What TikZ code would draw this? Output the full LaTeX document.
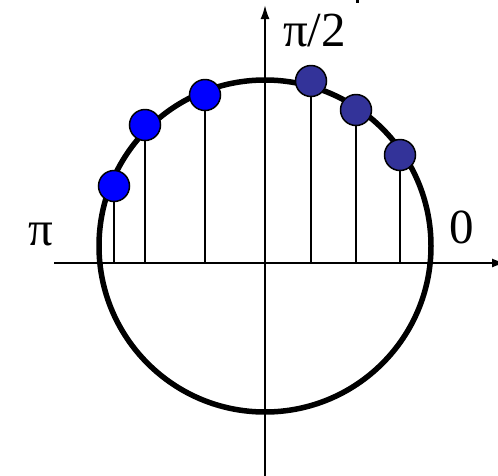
\documentclass[tikz,border=0pt]{standalone}
\usepackage{fontspec}
\setmainfont{Liberation Serif}
\usetikzlibrary{arrows.meta}
\definecolor{dotblue}{RGB}{0,0,255}
\definecolor{dotdark}{RGB}{51,51,153}
\tikzset{
  axisline/.style={line width=2pt},
  stemline/.style={line width=1.4pt},
  bigcircle/.style={line width=5.5pt},
  sample/.style={circle,draw=black,line width=1.5pt,minimum size=31pt,inner sep=0pt},
  lbl/.style={font=\fontsize{49}{52}\selectfont,inner sep=0pt}
}
\begin{document}
\begin{tikzpicture}[x=1pt,y=-1pt]
\useasboundingbox (0,0) rectangle (498,475);
\coordinate (o) at (265,263);
\coordinate (cc) at (265,246);
\coordinate (xs) at (54,263);
\coordinate (xe) at (506,263);
\coordinate (ys) at (265,480);
\coordinate (ye) at (265,5);
\draw[axisline,-{Latex[length=14pt,width=9pt]}] (xs) -- (xe);
\draw[axisline,-{Latex[length=14pt,width=9pt]}] (ys) -- (ye);
\coordinate (p1) at (114,186);
\coordinate (p2) at (145,125);
\coordinate (p3) at (205,95);
\coordinate (p4) at (311,81);
\coordinate (p5) at (356,110);
\coordinate (p6) at (400,155);
\foreach \p in {p1,p2,p3,p4,p5,p6}{\draw[stemline] (\p) -- (\p |- o);}
\draw[bigcircle] (cc) circle[radius=166];
\node[sample,fill=dotblue] (d1) at (p1) {};
\node[sample,fill=dotblue] (d2) at (p2) {};
\node[sample,fill=dotblue] (d3) at (p3) {};
\node[sample,fill=dotdark] (d4) at (p4) {};
\node[sample,fill=dotdark] (d5) at (p5) {};
\node[sample,fill=dotdark] (d6) at (p6) {};
\node[lbl,anchor=base west] (lhalf) at (283,46) {π/2};
\node[lbl,anchor=base west] (lzero) at (449,243) {0};
\node[lbl,anchor=base west] (lpi) at (28,245) {π};
\fill (356,0) rectangle (359,3);
\end{tikzpicture}
\end{document}
